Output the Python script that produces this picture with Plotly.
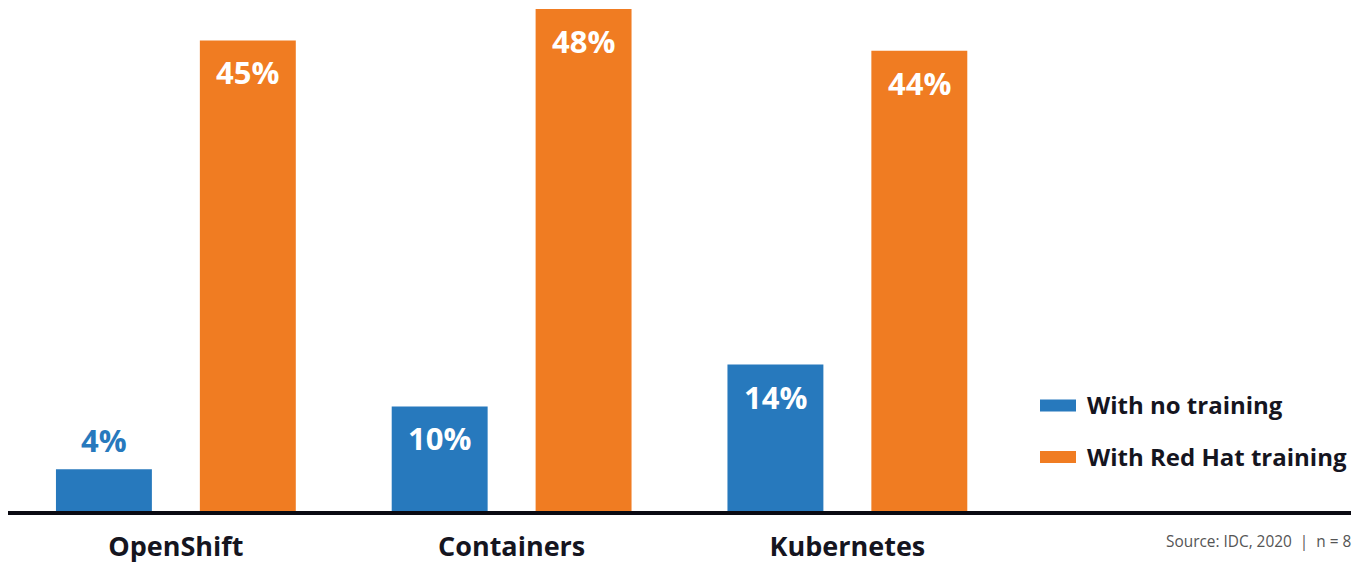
import plotly.graph_objects as go

categories = ["OpenShift", "Containers", "Kubernetes"]
series_names = ["With no training", "With Red Hat training"]
no_training = [4, 10, 14]
red_hat_training = [45, 48, 44]
colors = ["#2779BD", "#F07C22"]
source_text = "Source: IDC, 2020  |  n = 8"

FONT = "Open Sans, Lato, sans-serif"

# page body has an 8px margin; figure is sized to fit the window
W, H = 1354, 555
L, R, T, B = 0, 11, 0, 52
PW, PH = W - L - R, H - T - B

fig = go.Figure()
for name, vals, col in zip(series_names, [no_training, red_hat_training], colors):
    fig.add_trace(go.Bar(x=categories, y=vals, name=name, marker_color=col,
                         marker_line_width=0, showlegend=False, hoverinfo="skip"))

# value labels
offsets = [-72, 72]
for si, (vals, col) in enumerate(zip([no_training, red_hat_training], colors)):
    for c, v in zip(categories, vals):
        inside = v >= 8
        fig.add_annotation(
            x=c, y=v, xref="x", yref="y", xshift=offsets[si],
            yshift=-32 if inside else 29,
            yanchor="middle",
            text=f"{v}%", showarrow=False,
            font=dict(family=FONT, size=31, color="white" if inside else col, weight="bold"),
        )

# custom legend (screen px -> paper)
def px_x(sx):
    return (sx - 8 - L) / PW

def px_y(sy):
    return 1 - (sy - 8 - T) / PH

leg_y = [405.5, 457]
for name, col, sy in zip(series_names, colors, leg_y):
    fig.add_shape(type="rect", xref="paper", yref="paper",
                  x0=px_x(1040), x1=px_x(1076), y0=px_y(sy + 6), y1=px_y(sy - 6),
                  fillcolor=col, line_width=0)
    fig.add_annotation(xref="paper", yref="paper", x=px_x(1085), y=px_y(sy - 1),
                       xanchor="left", yanchor="middle", text=name, showarrow=False,
                       font=dict(family=FONT, size=24, color="#15151F", weight="bold"))

fig.add_annotation(xref="paper", yref="paper", x=px_x(1353), y=px_y(541), xanchor="right",
                   yanchor="middle", text=source_text, showarrow=False,
                   font=dict(family=FONT, size=15.4, color="#555555"))

fig.update_layout(
    width=W, height=H,
    margin=dict(l=L, r=R, t=T, b=B, autoexpand=False),
    paper_bgcolor="white", plot_bgcolor="white",
    barmode="group", bargap=48 / 336, bargroupgap=1 / 3,
    xaxis=dict(range=[-0.5, 3.5], showline=True, linecolor="#0A0A12", linewidth=4,
               automargin=False,
               showgrid=False, zeroline=False, ticks="", ticklabelstandoff=9,
               tickfont=dict(family=FONT, size=27, color="#15151F", weight="bold")),
    yaxis=dict(range=[0, 48 * PH / 502], visible=False, showgrid=False, zeroline=False,
               automargin=False),
)

fig.write_html("out.html")
